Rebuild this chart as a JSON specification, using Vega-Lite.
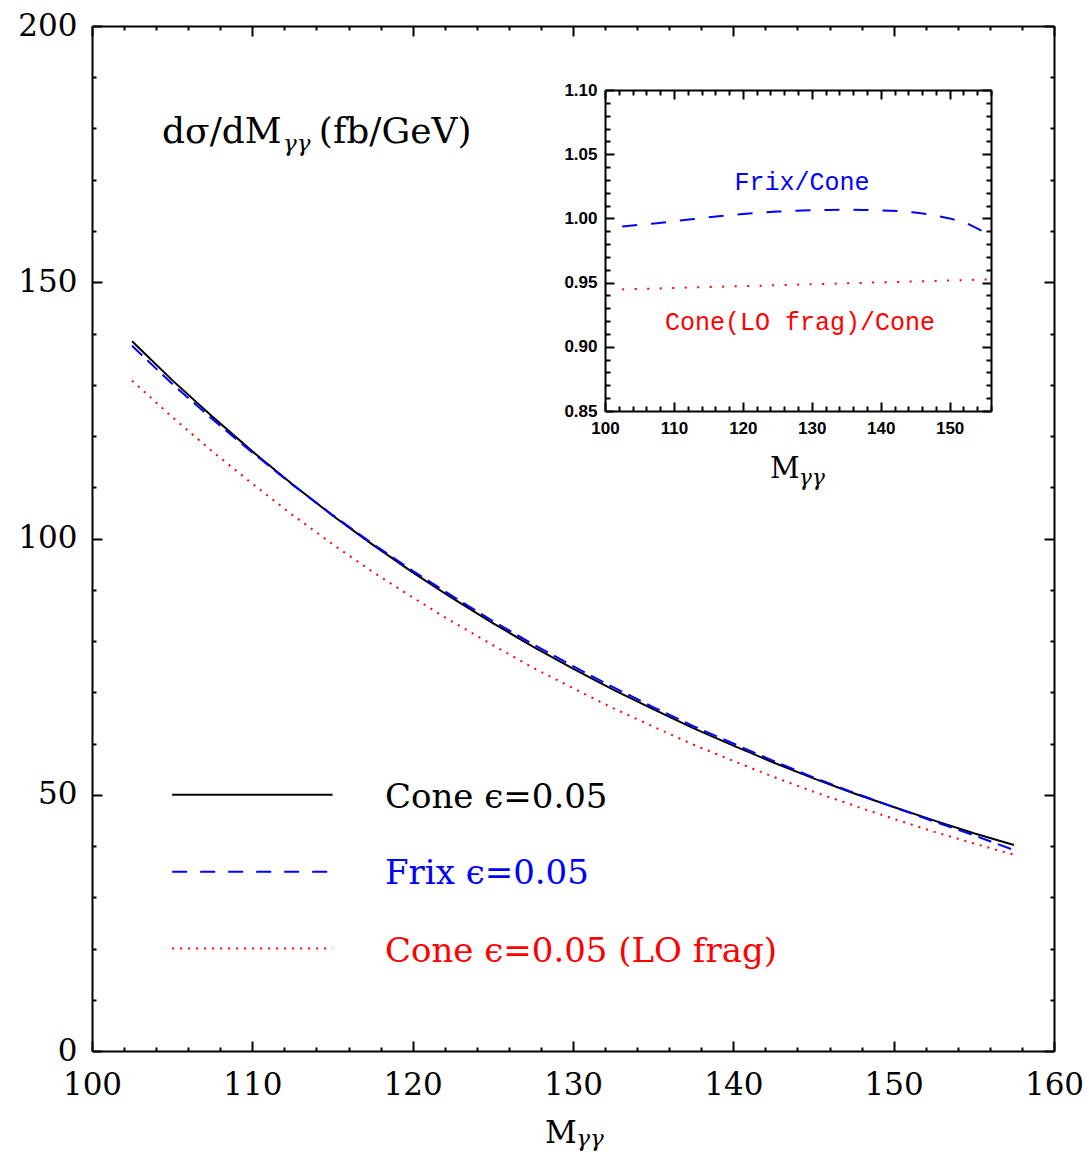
{
  "$schema": "https://vega.github.io/schema/vega-lite/v6.json",
  "width": 962,
  "height": 1025,
  "autosize": "none",
  "padding": {"left": 92, "top": 26, "right": 35, "bottom": 103},
  "background": "white",
  "config": {"view": {"stroke": null}},
  "datasets": {
    "curves": [
      {"M": 102.5, "cone": 138.5, "frix": 137.6, "lo": 130.8},
      {"M": 105, "cone": 130.9, "frix": 130.2, "lo": 123.7},
      {"M": 107.5, "cone": 123.8, "frix": 123.3, "lo": 117.0},
      {"M": 110, "cone": 117.0, "frix": 116.8, "lo": 110.7},
      {"M": 112.5, "cone": 110.6, "frix": 110.5, "lo": 104.6},
      {"M": 115, "cone": 104.5, "frix": 104.6, "lo": 98.9},
      {"M": 117.5, "cone": 98.8, "frix": 99.0, "lo": 93.5},
      {"M": 120, "cone": 93.4, "frix": 93.7, "lo": 88.5},
      {"M": 122.5, "cone": 88.3, "frix": 88.7, "lo": 83.7},
      {"M": 125, "cone": 83.5, "frix": 83.9, "lo": 79.2},
      {"M": 127.5, "cone": 78.9, "frix": 79.4, "lo": 74.8},
      {"M": 130, "cone": 74.6, "frix": 75.1, "lo": 70.8},
      {"M": 132.5, "cone": 70.5, "frix": 71.0, "lo": 66.9},
      {"M": 135, "cone": 66.7, "frix": 67.1, "lo": 63.3},
      {"M": 137.5, "cone": 63.0, "frix": 63.4, "lo": 59.8},
      {"M": 140, "cone": 59.6, "frix": 60.0, "lo": 56.6},
      {"M": 142.5, "cone": 56.3, "frix": 56.6, "lo": 53.5},
      {"M": 145, "cone": 53.2, "frix": 53.4, "lo": 50.6},
      {"M": 147.5, "cone": 50.3, "frix": 50.4, "lo": 47.9},
      {"M": 150, "cone": 47.6, "frix": 47.6, "lo": 45.3},
      {"M": 152.5, "cone": 45.0, "frix": 44.8, "lo": 42.8},
      {"M": 155, "cone": 42.5, "frix": 42.1, "lo": 40.5},
      {"M": 157.5, "cone": 40.2, "frix": 39.2, "lo": 38.3}
    ],
    "ratios": [
      {"M": 102.5, "frix": 0.9936, "lo": 0.9447},
      {"M": 105, "frix": 0.9950, "lo": 0.9451},
      {"M": 107.5, "frix": 0.9962, "lo": 0.9454},
      {"M": 110, "frix": 0.9978, "lo": 0.9458},
      {"M": 112.5, "frix": 0.9993, "lo": 0.9462},
      {"M": 115, "frix": 1.0008, "lo": 0.9465},
      {"M": 117.5, "frix": 1.0022, "lo": 0.9469},
      {"M": 120, "frix": 1.0034, "lo": 0.9473},
      {"M": 122.5, "frix": 1.0045, "lo": 0.9476},
      {"M": 125, "frix": 1.0053, "lo": 0.9480},
      {"M": 127.5, "frix": 1.0060, "lo": 0.9484},
      {"M": 130, "frix": 1.0064, "lo": 0.9487},
      {"M": 132.5, "frix": 1.0066, "lo": 0.9491},
      {"M": 135, "frix": 1.0067, "lo": 0.9494},
      {"M": 137.5, "frix": 1.0066, "lo": 0.9498},
      {"M": 140, "frix": 1.0063, "lo": 0.9502},
      {"M": 142.5, "frix": 1.0057, "lo": 0.9505},
      {"M": 145, "frix": 1.0046, "lo": 0.9509},
      {"M": 147.5, "frix": 1.0028, "lo": 0.9513},
      {"M": 150, "frix": 1.0000, "lo": 0.9516},
      {"M": 152.5, "frix": 0.9962, "lo": 0.9520},
      {"M": 155, "frix": 0.9895, "lo": 0.9524},
      {"M": 156, "frix": 0.9830, "lo": 0.9525}
    ]
  },
  "layer": [
    {
      "layer": [
        {
          "data": {"name": "curves"},
          "mark": {"type": "line", "color": "black", "strokeWidth": 2},
          "encoding": {
            "x": {"field": "M", "type": "quantitative", "scale": {"domain": [100, 160], "nice": false, "zero": false},
              "axis": {"orient": "bottom", "title": null, "grid": false,
                "values": [100,102,104,106,108,110,112,114,116,118,120,122,124,126,128,130,132,134,136,138,140,142,144,146,148,150,152,154,156,158,160],
                "labelExpr": "datum.value % 10 === 0 ? datum.label : ''",
                "tickSize": {"condition": {"test": "datum.value % 10 === 0", "value": -10}, "value": -4},
                "tickColor": "black", "tickWidth": 2, "domainColor": "black", "domainWidth": 2,
                "labelFont": "DejaVu Serif", "labelFontSize": 31, "labelColor": "black", "labelPadding": 29,
                "labelFlush": false, "labelOverlap": false, "labelBound": false}},
            "y": {"field": "cone", "type": "quantitative", "scale": {"domain": [0, 200], "nice": false, "zero": false},
              "axis": {"orient": "left", "title": null, "grid": false,
                "values": [0,10,20,30,40,50,60,70,80,90,100,110,120,130,140,150,160,170,180,190,200],
                "labelExpr": "datum.value % 50 === 0 ? datum.label : ''",
                "tickSize": {"condition": {"test": "datum.value % 50 === 0", "value": -10}, "value": -4},
                "tickColor": "black", "tickWidth": 2, "domainColor": "black", "domainWidth": 2,
                "labelFont": "DejaVu Serif", "labelFontSize": 31, "labelColor": "black", "labelPadding": 25,
                "labelOverlap": false, "labelBound": false}}
          }
        },
        {
          "data": {"name": "curves"},
          "mark": {"type": "line", "color": "#0000ff", "strokeWidth": 2, "strokeDash": [14, 7]},
          "encoding": {
            "x": {"field": "M", "type": "quantitative", "axis": null},
            "y": {"field": "frix", "type": "quantitative", "axis": null}
          }
        },
        {
          "data": {"name": "curves"},
          "mark": {"type": "line", "color": "#ff0000", "strokeWidth": 2, "strokeDash": [2, 6]},
          "encoding": {
            "x": {"field": "M", "type": "quantitative", "axis": null},
            "y": {"field": "lo", "type": "quantitative", "axis": null}
          }
        },
        {
          "data": {"values": [{"x1": 105, "x2": 115, "y": 50}]},
          "mark": {"type": "rule", "color": "black", "strokeWidth": 2},
          "encoding": {
            "x": {"field": "x1", "type": "quantitative",
              "axis": {"orient": "top", "title": null, "grid": false, "labels": false,
                "values": [100,102,104,106,108,110,112,114,116,118,120,122,124,126,128,130,132,134,136,138,140,142,144,146,148,150,152,154,156,158,160],
                "tickSize": {"condition": {"test": "datum.value % 10 === 0", "value": -10}, "value": -4},
                "tickColor": "black", "tickWidth": 2, "domainColor": "black", "domainWidth": 2}},
            "x2": {"field": "x2"},
            "y": {"field": "y", "type": "quantitative",
              "axis": {"orient": "right", "title": null, "grid": false, "labels": false,
                "values": [0,10,20,30,40,50,60,70,80,90,100,110,120,130,140,150,160,170,180,190,200],
                "tickSize": {"condition": {"test": "datum.value % 50 === 0", "value": -10}, "value": -4},
                "tickColor": "black", "tickWidth": 2, "domainColor": "black", "domainWidth": 2}}
          }
        },
        {
          "data": {"values": [{"x1": 105, "x2": 115, "y": 35}]},
          "mark": {"type": "rule", "color": "#0000ff", "strokeWidth": 2, "strokeDash": [15, 13]},
          "encoding": {
            "x": {"field": "x1", "type": "quantitative", "axis": null},
            "x2": {"field": "x2"},
            "y": {"field": "y", "type": "quantitative", "axis": null}
          }
        },
        {
          "data": {"values": [{"x1": 105, "x2": 115, "y": 20}]},
          "mark": {"type": "rule", "color": "#ff0000", "strokeWidth": 2, "strokeDash": [2, 6]},
          "encoding": {
            "x": {"field": "x1", "type": "quantitative", "axis": null},
            "x2": {"field": "x2"},
            "y": {"field": "y", "type": "quantitative", "axis": null}
          }
        },
        {
          "data": {"values": [
            {"label": "Cone ϵ=0.05", "x": 118.27, "y": 47.42, "series": "cone"},
            {"label": "Frix ϵ=0.05", "x": 118.27, "y": 32.59, "series": "frix"},
            {"label": "Cone ϵ=0.05 (LO frag)", "x": 118.27, "y": 17.44, "series": "lo"}
          ]},
          "mark": {"type": "text", "align": "left", "baseline": "alphabetic", "font": "DejaVu Serif", "fontSize": 34},
          "encoding": {
            "x": {"field": "x", "type": "quantitative", "axis": null},
            "y": {"field": "y", "type": "quantitative", "axis": null},
            "text": {"field": "label"},
            "color": {"field": "series", "type": "nominal", "legend": null,
              "scale": {"domain": ["cone", "frix", "lo"], "range": ["black", "#0000ff", "#ff0000"]}}
          }
        },
        {
          "data": {"values": [
            {"label": "dσ/dM", "x": 104.37, "y": 177.17},
            {"label": "(fb/GeV)", "x": 114.15, "y": 177.17}
          ]},
          "mark": {"type": "text", "align": "left", "baseline": "alphabetic", "font": "DejaVu Serif", "fontSize": 36, "color": "black"},
          "encoding": {
            "x": {"field": "x", "type": "quantitative", "axis": null},
            "y": {"field": "y", "type": "quantitative", "axis": null},
            "text": {"field": "label"}
          }
        },
        {
          "data": {"values": [
            {"label": "M", "x": 128.25, "y": -17.95}
          ]},
          "mark": {"type": "text", "align": "left", "baseline": "alphabetic", "font": "DejaVu Serif", "fontSize": 31, "color": "black"},
          "encoding": {
            "x": {"field": "x", "type": "quantitative", "axis": null},
            "y": {"field": "y", "type": "quantitative", "axis": null},
            "text": {"field": "label"}
          }
        },
        {
          "data": {"values": [
            {"label": "γγ", "x": 111.91, "y": 175.6},
            {"label": "γγ", "x": 130.2, "y": -18.6}
          ]},
          "mark": {"type": "text", "align": "left", "baseline": "alphabetic", "font": "DejaVu Serif", "fontStyle": "italic", "fontSize": 23, "color": "black"},
          "encoding": {
            "x": {"field": "x", "type": "quantitative", "axis": null},
            "y": {"field": "y", "type": "quantitative", "axis": null},
            "text": {"field": "label"}
          }
        }
      ],
      "resolve": {"axis": {"x": "independent", "y": "independent"}}
    },
    {
      "layer": [
        {
          "data": {"name": "ratios"},
          "mark": {"type": "line", "color": "#0000ff", "strokeWidth": 2, "strokeDash": [15, 14]},
          "encoding": {
            "x": {"field": "M", "type": "quantitative", "scale": {"domain": [100, 156], "range": [513, 899], "nice": false, "zero": false},
              "axis": {"orient": "bottom", "offset": -640, "title": null, "grid": false,
                "values": [100,102,104,106,108,110,112,114,116,118,120,122,124,126,128,130,132,134,136,138,140,142,144,146,148,150,152,154,156],
                "labelExpr": "datum.value % 10 === 0 ? datum.label : ''",
                "tickSize": {"condition": {"test": "datum.value % 10 === 0", "value": -9}, "value": -5},
                "tickColor": "black", "tickWidth": 2, "domainColor": "black", "domainWidth": 2,
                "labelFont": "Liberation Sans", "labelFontWeight": "bold", "labelFontSize": 17, "labelColor": "black", "labelPadding": 18,
                "labelFlush": false, "labelOverlap": false, "labelBound": false}},
            "y": {"field": "frix", "type": "quantitative", "scale": {"domain": [0.85, 1.10], "range": [385, 64], "nice": false, "zero": false},
              "axis": {"orient": "left", "offset": -513, "title": null, "grid": false,
                "values": [0.85,0.86,0.87,0.88,0.89,0.90,0.91,0.92,0.93,0.94,0.95,0.96,0.97,0.98,0.99,1.00,1.01,1.02,1.03,1.04,1.05,1.06,1.07,1.08,1.09,1.10],
                "labelExpr": "round(datum.value*100) % 5 === 0 ? format(datum.value, '.2f') : ''",
                "tickSize": {"condition": {"test": "round(datum.value*100) % 5 === 0", "value": -9}, "value": -5},
                "tickColor": "black", "tickWidth": 2, "domainColor": "black", "domainWidth": 2,
                "labelFont": "Liberation Sans", "labelFontWeight": "bold", "labelFontSize": 17, "labelColor": "black", "labelPadding": 17,
                "labelOverlap": false, "labelBound": false}}
          }
        },
        {
          "data": {"name": "ratios"},
          "mark": {"type": "line", "color": "#ff0000", "strokeWidth": 2, "strokeDash": [2, 10.5]},
          "encoding": {
            "x": {"field": "M", "type": "quantitative",
              "axis": {"orient": "top", "offset": -64, "title": null, "grid": false, "labels": false,
                "values": [100,102,104,106,108,110,112,114,116,118,120,122,124,126,128,130,132,134,136,138,140,142,144,146,148,150,152,154,156],
                "tickSize": {"condition": {"test": "datum.value % 10 === 0", "value": -9}, "value": -5},
                "tickColor": "black", "tickWidth": 2, "domainColor": "black", "domainWidth": 2}},
            "y": {"field": "lo", "type": "quantitative",
              "axis": {"orient": "right", "offset": -63, "title": null, "grid": false, "labels": false,
                "values": [0.85,0.86,0.87,0.88,0.89,0.90,0.91,0.92,0.93,0.94,0.95,0.96,0.97,0.98,0.99,1.00,1.01,1.02,1.03,1.04,1.05,1.06,1.07,1.08,1.09,1.10],
                "tickSize": {"condition": {"test": "round(datum.value*100) % 5 === 0", "value": -9}, "value": -5},
                "tickColor": "black", "tickWidth": 2, "domainColor": "black", "domainWidth": 2}}
          }
        },
        {
          "data": {"values": [
            {"label": "Frix/Cone", "x": 128.58, "y": 1.0223, "series": "frix"},
            {"label": "Cone(LO frag)/Cone", "x": 128.29, "y": 0.913, "series": "lo"}
          ]},
          "mark": {"type": "text", "align": "center", "baseline": "alphabetic", "font": "Liberation Mono", "fontSize": 25},
          "encoding": {
            "x": {"field": "x", "type": "quantitative", "axis": null},
            "y": {"field": "y", "type": "quantitative", "axis": null},
            "text": {"field": "label"},
            "color": {"field": "series", "type": "nominal", "legend": null,
              "scale": {"domain": ["cone", "frix", "lo"], "range": ["black", "#0000ff", "#ff0000"]}}
          }
        },
        {
          "data": {"values": [{"label": "M", "x": 123.94, "y": 0.7982}]},
          "mark": {"type": "text", "align": "left", "baseline": "alphabetic", "font": "DejaVu Serif", "fontSize": 29, "color": "black"},
          "encoding": {
            "x": {"field": "x", "type": "quantitative", "axis": null},
            "y": {"field": "y", "type": "quantitative", "axis": null},
            "text": {"field": "label"}
          }
        },
        {
          "data": {"values": [{"label": "γγ", "x": 128.1, "y": 0.792}]},
          "mark": {"type": "text", "align": "left", "baseline": "alphabetic", "font": "DejaVu Serif", "fontStyle": "italic", "fontSize": 22, "color": "black"},
          "encoding": {
            "x": {"field": "x", "type": "quantitative", "axis": null},
            "y": {"field": "y", "type": "quantitative", "axis": null},
            "text": {"field": "label"}
          }
        }
      ],
      "resolve": {"axis": {"x": "independent", "y": "independent"}}
    }
  ],
  "resolve": {"scale": {"x": "independent", "y": "independent"}}
}
